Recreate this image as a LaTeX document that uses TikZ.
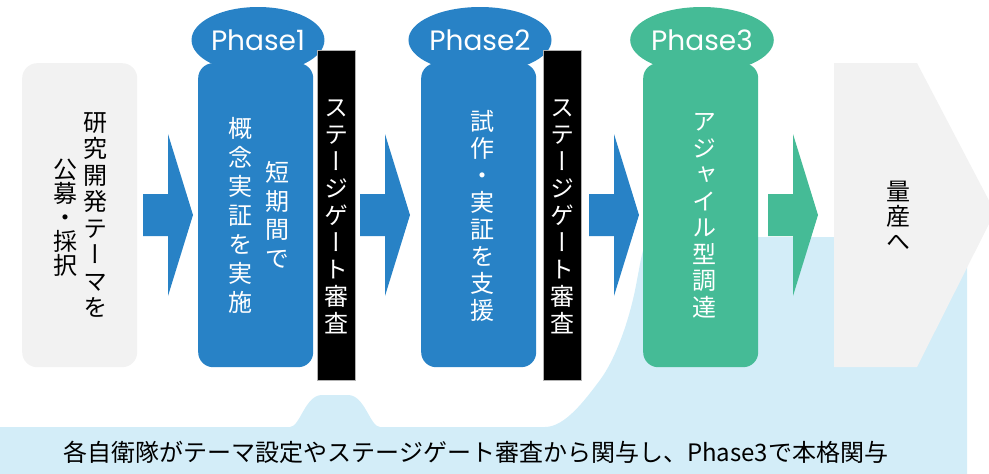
\documentclass[tikz,border=0pt]{standalone}
\usepackage{fontspec}
\usetikzlibrary{shapes.geometric}
\newfontfamily\jp{Noto Sans CJK JP}
\newfontfamily\vjp[RawFeature=+vert]{Noto Sans CJK JP}
\newfontfamily\ph{Poppins}
\definecolor{phblue}{HTML}{2882C6}
\definecolor{phgreen}{HTML}{45BB96}
\definecolor{lightbg}{HTML}{D3EDF8}
\definecolor{greyc}{HTML}{F2F2F2}
\tikzset{
  box/.style={rounded corners=15pt, minimum width=115pt, minimum height=304pt, anchor=north west, inner sep=0pt, draw=none},
  head/.style={ellipse, minimum width=132pt, minimum height=66pt, inner sep=0pt, text=white, font=\ph\fontsize{28}{30}\selectfont},
  gatebar/.style={fill=black, draw=gray!60, line width=0.8pt, minimum width=38pt, minimum height=330pt, anchor=north west, inner sep=0pt},
  vtext/.style={align=center, inner sep=0pt, font=\vjp\fontsize{24}{#1}\selectfont},
  pics/fatarrow/.style={code={\fill[#1] (0,194) -- (25,194) -- (25,134) -- (50,215) -- (25,296) -- (25,236) -- (0,236) -- cycle;}}
}
\begin{document}
\begin{tikzpicture}[x=1pt,y=-1pt]
\useasboundingbox (0,0) rectangle (989,474);
% light blue background
\fill[lightbg] (0,474) -- (0,427) -- (290,427)
  .. controls (300,427) and (305,395) .. (322,395) -- (348,395)
  .. controls (365,395) and (370,427) .. (380,427) -- (545,427)
  .. controls (565,427) and (585,400) .. (600,380)
  .. controls (615,360) and (630,320) .. (637,280)
  .. controls (641,260) and (643,240) .. (652,237)
  -- (967,237) -- (967,474) -- cycle;
% final grey pentagon
\fill[greyc] (834,63) -- (917,63) -- (995,212) -- (917,367) -- (834,367) -- cycle;
\node[inner sep=0pt] (mass) at (898,216) {};
\node[vtext=25] (masst) at (mass) {量\\産\\へ};
% intro box
\node[box, fill=greyc] (intro) at (22,63) {};
\node[vtext=26.5] (introA) at (95,215) {研\\究\\開\\発\\テ\\ー\\マ\\を};
\node[vtext=24] (introB) at (65,218) {公\\募\\・\\採\\択};
% phase boxes
\node[box, fill=phblue] (p1) at (198,63) {};
\node[head, fill=phblue] (p1h) at (258,40) {Phase1};
\node[box, fill=phblue] (p2) at (421,63) {};
\node[head, fill=phblue] (p2h) at (480,40) {Phase2};
\node[box, fill=phgreen] (p3) at (643,63) {};
\node[head, fill=phgreen] (p3h) at (702,40) {Phase3};
\node[vtext=29, text=white] (p1a) at (240,215) {概\\念\\実\\証\\を\\実\\施};
\node[vtext=28.5, text=white] (p1b) at (277,215) {短\\期\\間\\で};
\node[vtext=27, text=white] (p2a) at (482,216) {試\\作\\・\\実\\証\\を\\支\\援};
\node[vtext=26.5, text=white] (p3a) at (704,216) {ア\\ジ\\ャ\\イ\\ル\\型\\調\\達};
% stage gates
\node[gatebar] (g1) at (317,50) {};
\node[gatebar] (g2) at (543,50) {};
\node[vtext=27, text=white] (g1t) at (336,217) {ス\\テ\\ー\\ジ\\ゲ\\ー\\ト\\審\\査};
\node[vtext=27, text=white] (g2t) at (562,217) {ス\\テ\\ー\\ジ\\ゲ\\ー\\ト\\審\\査};
% arrows
\pic at (143,0) {fatarrow=phblue};
\pic at (360,0) {fatarrow=phblue};
\pic at (589,0) {fatarrow=phblue};
\pic at (768,0) {fatarrow=phgreen};
% bottom caption
\node[inner sep=0pt, font=\jp\fontsize{24}{26}\selectfont] (cap) at (476,452) {各自衛隊がテーマ設定やステージゲート審査から関与し、Phase3で本格関与};
\end{tikzpicture}
\end{document}
